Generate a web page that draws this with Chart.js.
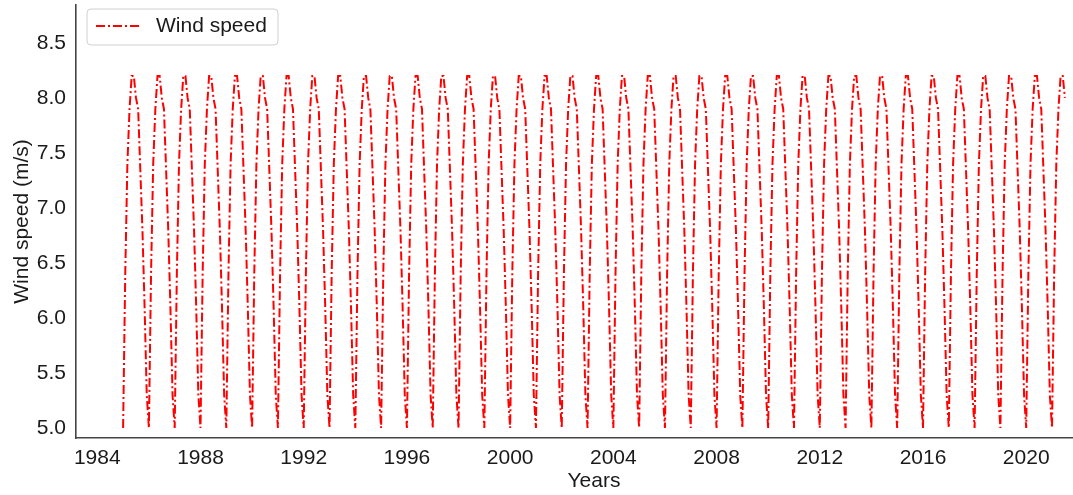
<!DOCTYPE html>
<html>
<head>
<meta charset="utf-8">
<script src="https://cdn.jsdelivr.net/npm/chart.js@4.4.0/dist/chart.umd.min.js"></script>
<style>
  html, body { margin: 0; padding: 0; background: #fff; overflow: hidden; }
  #wrap { width: 1112px; height: 495px; position: relative; }
</style>
</head>
<body>
<div id="wrap"><canvas id="wind-chart"></canvas></div>
<script>
// Mean monthly wind speed (m/s), Jan..Dec; the same seasonal cycle every year
const monthlyWind = [5.0, 6.4, 7.4, 7.9, 8.2, 8.2, 8.0, 7.9, 7.35, 6.8, 6.1, 5.3];
const firstYear = 1985;
const lastYear = 2021;
const lastMonth = 6; // series stops in July 2021
const yearTicks = [1984, 1988, 1992, 1996, 2000, 2004, 2008, 2012, 2016, 2020];
const speedTicks = [5.0, 5.5, 6.0, 6.5, 7.0, 7.5, 8.0, 8.5];

// monthly points as fractional years
var windPoints = [];
for (var yr = firstYear; yr <= lastYear; yr++) {
    for (var m = 0; m < 12; m++) {
        if (yr === lastYear && m > lastMonth) break;
        windPoints.push({ x: yr + m / 12, y: monthlyWind[m] });
    }
}

const fontFamily = "'Liberation Sans', Arial, sans-serif";
const fontSize = 21;
const textColor = "#1a1a1a";
const spineColor = "#444";

// legend box in the upper left corner of the plot
const legendBox = {
    id: "legendBox",
    afterDraw: function (chart) {
        var ctx = chart.ctx;
        var x = 87, y = 9, w = 191, h = 36, r = 4;
        ctx.save();
        ctx.beginPath();
        ctx.moveTo(x + r, y);
        ctx.arcTo(x + w, y, x + w, y + h, r);
        ctx.arcTo(x + w, y + h, x, y + h, r);
        ctx.arcTo(x, y + h, x, y, r);
        ctx.arcTo(x, y, x + w, y, r);
        ctx.closePath();
        ctx.fillStyle = "rgba(255,255,255,0.85)";
        ctx.fill();
        ctx.lineWidth = 1;
        ctx.strokeStyle = "#d0d0d0";
        ctx.stroke();

        ctx.beginPath();
        ctx.setLineDash([9, 3, 2, 3]);
        ctx.lineWidth = 2;
        ctx.strokeStyle = "red";
        ctx.moveTo(96, 26);
        ctx.lineTo(139, 26);
        ctx.stroke();
        ctx.setLineDash([]);

        ctx.fillStyle = textColor;
        ctx.font = fontSize + "px " + fontFamily;
        ctx.textBaseline = "middle";
        ctx.fillText("Wind speed", 156, 26);
        ctx.restore();
    }
};

var ctx = document.getElementById("wind-chart").getContext("2d");
new Chart(ctx, {
    type: "line",
    data: {
        datasets: [{
            label: "Wind speed",
            data: windPoints,
            borderColor: "red",
            borderWidth: 2,
            borderDash: [9, 3, 2, 3],
            pointRadius: 0,
            tension: 0,
            fill: false
        }]
    },
    options: {
        responsive: true,
        maintainAspectRatio: false,
        animation: false,
        layout: { padding: { top: 5, right: 0, left: 0, bottom: 0 } },
        plugins: {
            legend: { display: false },
            tooltip: { enabled: false }
        },
        scales: {
            x: {
                type: "linear",
                min: 1983.175,
                max: 2023.325,
                grid: { display: false, drawTicks: false },
                border: { display: true, color: spineColor, width: 1.6 },
                afterBuildTicks: function (axis) {
                    axis.ticks = yearTicks.map(function (v) { return { value: v }; });
                },
                afterFit: function (axis) {
                    axis.height = 57;
                    axis.paddingLeft = 0;
                    axis.paddingRight = 0;
                },
                ticks: {
                    autoSkip: false,
                    maxRotation: 0,
                    padding: 8,
                    color: textColor,
                    font: { family: fontFamily, size: fontSize },
                    callback: function (v) { return String(v); }
                },
                title: {
                    display: true,
                    text: "Years",
                    color: textColor,
                    font: { family: fontFamily, size: fontSize },
                    padding: { top: 0, bottom: 1.5 }
                }
            },
            y: {
                min: 4.909,
                max: 8.845,
                grid: { display: false, drawTicks: false },
                border: { display: true, color: spineColor, width: 1.6 },
                afterBuildTicks: function (axis) {
                    axis.ticks = speedTicks.map(function (v) { return { value: v }; });
                },
                afterFit: function (axis) {
                    axis.width = 76;
                    axis.paddingTop = 0;
                    axis.paddingBottom = 0;
                },
                ticks: {
                    padding: 10,
                    color: textColor,
                    font: { family: fontFamily, size: fontSize },
                    callback: function (v) { return v.toFixed(1); }
                },
                title: {
                    display: true,
                    text: "Wind speed (m/s)",
                    color: textColor,
                    font: { family: fontFamily, size: fontSize },
                    padding: { top: 9.5, bottom: 0 }
                }
            }
        }
    },
    plugins: [legendBox]
});
</script>
</body>
</html>
